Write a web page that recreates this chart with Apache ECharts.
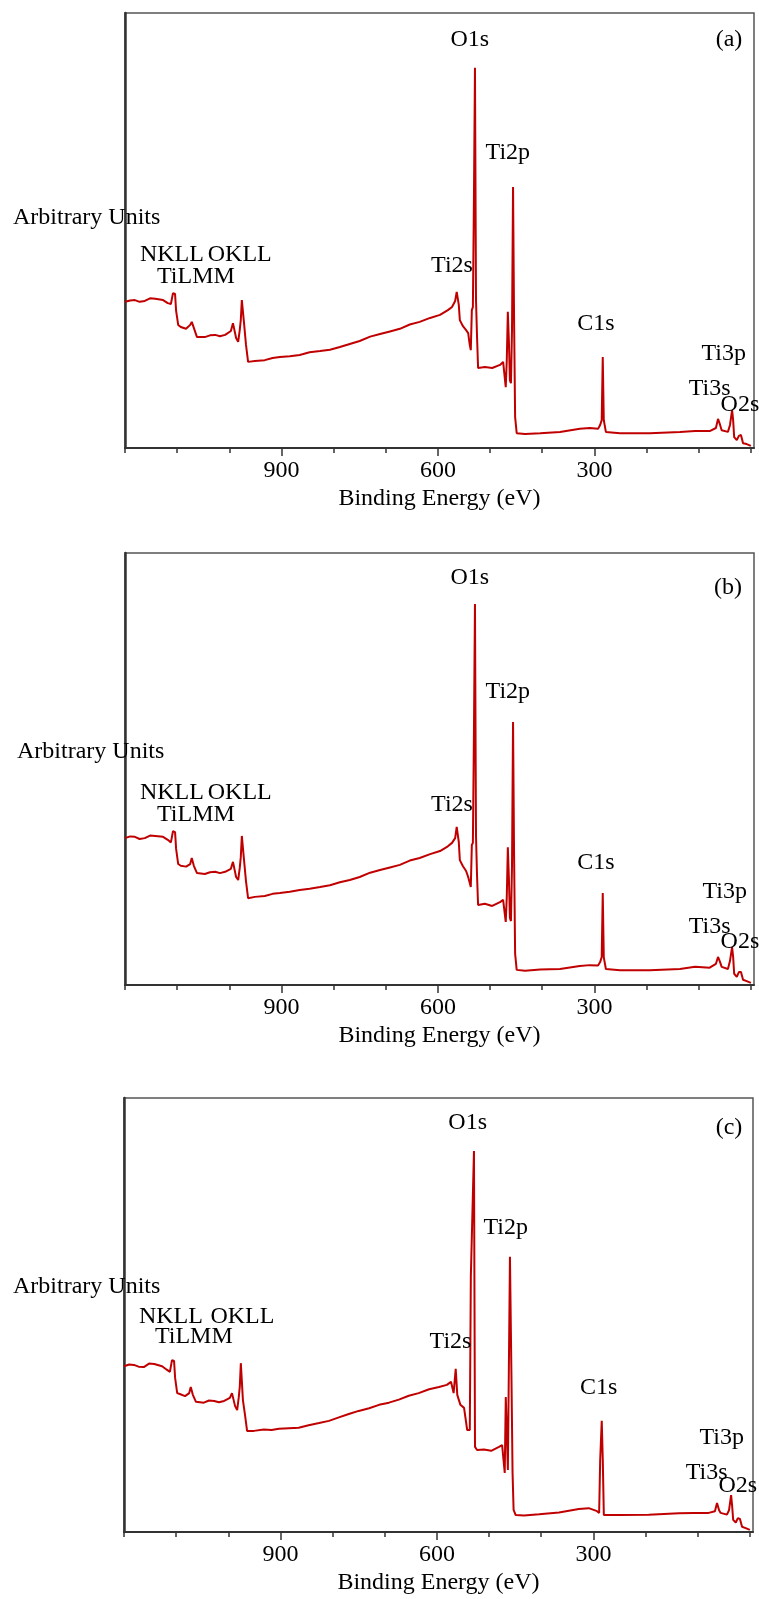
<!DOCTYPE html>
<html>
<head>
<meta charset="utf-8">
<script src="https://cdn.jsdelivr.net/npm/echarts@6/dist/echarts.min.js"></script>
<style>
  html, body { margin: 0; padding: 0; background: #fff; }
  #chart { width: 759px; height: 1599px; }
</style>
</head>
<body>
<div id="chart"></div>
<script>
// XPS survey spectra, three samples (a), (b), (c)
const energyA = [1200, 1190, 1181, 1172, 1162, 1152, 1142, 1127, 1118, 1112, 1108, 1104, 1102, 1098, 1093, 1083, 1075, 1072, 1068, 1062,
  1047, 1037, 1027, 1018, 1008, 997, 993, 987, 983, 980, 978, 976, 974, 972, 968, 964, 951, 932, 917, 903,
  884, 865, 846, 826, 807, 788, 769, 750, 730, 711, 692, 673, 654, 635, 615, 596, 581, 573, 567, 564,
  560, 558, 552, 546, 542, 539, 537, 535, 533, 531, 529, 527, 525, 523, 510, 496, 481, 475, 470, 468,
  466, 464, 462, 460, 458, 456, 454, 452, 449, 433, 404, 366, 328, 309, 293, 289, 286, 284, 282, 278,
  251, 194, 136, 107, 79, 67, 63, 59, 56, 44, 40, 36, 34, 32, 27, 23, 19, 15, 8, 0];
const intensityA = [33.6, 33.9, 34.0, 33.6, 33.8, 34.4, 34.3, 34.0, 33.3, 33.1, 35.6, 35.4, 31.5, 28.3, 27.8, 27.4, 28.3, 29.0, 27.6, 25.5,
  25.5, 25.9, 26.0, 25.7, 26.0, 26.9, 28.7, 25.3, 24.4, 27.1, 29.4, 34.0, 33.6, 29.0, 23.7, 19.8, 20.0, 20.2, 20.7, 20.9,
  21.1, 21.4, 22.0, 22.3, 22.6, 23.2, 23.9, 24.6, 25.6, 26.2, 26.8, 27.4, 28.4, 29.0, 29.9, 30.6, 31.7, 32.4, 33.8, 35.9,
  32.9, 29.4, 28.0, 27.1, 26.4, 23.7, 22.5, 31.7, 32.4, 57.0, 87.4, 34.0, 25.5, 18.4, 18.6, 18.4, 19.1, 19.8, 14.0, 20.2,
  31.3, 24.8, 15.6, 14.9, 27.1, 60.0, 29.4, 7.1, 3.4, 3.2, 3.4, 3.7, 4.4, 4.6, 4.4, 5.3, 6.4, 20.9, 6.4, 3.7,
  3.4, 3.4, 3.7, 3.9, 3.9, 4.6, 6.7, 5.3, 4.1, 3.7, 5.3, 8.7, 6.4, 2.5, 1.8, 2.8, 3.0, 1.1, 0.9, 0.5];

const energyB = energyA;
const intensityB = [34.0, 34.4, 34.3, 33.8, 34.0, 34.6, 34.5, 34.3, 33.6, 33.0, 35.6, 35.4, 31.5, 28.0, 27.6, 27.4, 28.0, 29.4, 27.6, 25.9,
  25.7, 26.1, 26.2, 25.9, 26.2, 26.9, 28.5, 25.0, 24.3, 27.1, 29.6, 34.5, 34.3, 29.2, 24.0, 20.1, 20.4, 20.6, 21.1, 21.3,
  21.6, 22.0, 22.3, 22.7, 23.1, 23.8, 24.3, 25.0, 26.0, 26.6, 27.2, 27.8, 28.8, 29.4, 30.3, 31.0, 32.1, 32.9, 34.0, 36.6,
  33.1, 28.9, 27.5, 26.4, 25.0, 23.6, 22.7, 32.4, 32.9, 58.0, 88.2, 34.5, 25.2, 18.5, 18.8, 18.3, 19.2, 19.7, 14.6, 20.4,
  31.9, 25.0, 15.5, 14.8, 27.5, 60.9, 30.0, 7.2, 3.5, 3.3, 3.6, 3.7, 4.4, 4.6, 4.5, 5.3, 6.5, 21.3, 6.4, 3.7,
  3.4, 3.4, 3.7, 4.2, 4.0, 4.9, 6.5, 5.3, 4.2, 3.7, 5.6, 8.8, 6.5, 2.6, 1.9, 3.0, 3.0, 1.2, 0.9, 0.5];

const energyC = [1200, 1190, 1181, 1172, 1162, 1152, 1142, 1127, 1118, 1112, 1108, 1104, 1102, 1098, 1093, 1083, 1075, 1072, 1068, 1062,
  1047, 1037, 1027, 1018, 1008, 997, 993, 987, 983, 980, 978, 976, 974, 972, 968, 964, 951, 932, 917, 903,
  884, 865, 846, 826, 807, 788, 769, 750, 730, 711, 692, 673, 654, 635, 615, 596, 581, 573, 568, 564,
  561, 555, 548, 542, 537, 535, 533, 529, 527, 523, 510, 496, 481, 475, 470, 468, 466, 464, 460, 457,
  455, 453, 449, 433, 404, 366, 328, 309, 293, 289, 287, 284, 282, 280, 251, 194, 136, 107, 79, 67,
  63, 59, 56, 44, 40, 36, 34, 32, 27, 23, 19, 15, 8, 0];
const intensityC = [38.2, 38.6, 38.5, 38.1, 38.0, 38.8, 38.7, 38.2, 37.4, 36.9, 39.6, 39.4, 35.5, 32.0, 31.8, 31.3, 32.0, 33.4, 31.6, 30.0,
  29.8, 30.3, 30.2, 29.9, 30.2, 30.9, 32.0, 29.0, 28.1, 31.0, 33.5, 38.9, 38.6, 30.4, 27.0, 23.3, 23.3, 23.6, 23.5, 23.8,
  23.9, 24.0, 24.6, 25.1, 25.6, 26.4, 27.2, 27.9, 28.5, 29.3, 29.8, 30.5, 31.4, 32.0, 32.9, 33.4, 33.9, 34.6, 32.0, 37.6,
  31.6, 29.3, 28.6, 23.5, 23.5, 58.8, 58.8, 87.8, 19.6, 18.9, 19.0, 18.7, 19.6, 20.0, 13.6, 31.1, 31.1, 14.3, 63.4, 34.6,
  13.6, 5.1, 3.9, 3.8, 4.1, 4.5, 5.3, 5.5, 4.8, 4.4, 16.6, 25.6, 16.6, 3.9, 3.9, 4.0, 4.3, 4.4, 4.4, 4.8,
  6.7, 5.0, 4.4, 4.0, 5.0, 8.5, 6.0, 2.8, 2.2, 3.2, 3.0, 1.2, 0.9, 0.5];

// peak annotations (energy, height in the same units as the spectra)
const peakNames = ['O1s', 'Ti2p', 'Ti2s', 'C1s', 'Ti3p', 'Ti3s', 'O2s', 'NKLL', 'OKLL', 'TiLMM'];
const peakEnergyA = [539, 466, 573, 297, 52, 79, 21, 1110, 980, 1064];
const peakHeightA = [93.8, 67.8, 41.8, 28.5, 21.6, 13.6, 9.9, 44.4, 44.4, 39.3];
const peakEnergyB = [539, 466, 573, 297, 50, 79, 21, 1110, 980, 1064];
const peakHeightB = [94.2, 67.8, 41.7, 28.2, 21.5, 13.4, 10.0, 44.4, 44.4, 39.4];
const peakEnergyC = [541, 468, 574, 290, 54, 83, 23, 1110, 973, 1066];
const peakHeightC = [94.2, 70.0, 43.8, 33.2, 21.7, 13.6, 10.6, 49.5, 49.5, 44.9];

const panelTags = ['(a)', '(b)', '(c)'];
const tagEnergy = [42, 44, 40];
const tagHeight = [93.8, 91.9, 93.1];

const tickEnergies = [0, 100, 200, 300, 400, 500, 600, 700, 800, 900, 1000, 1100, 1200];
const labelEnergies = [300, 600, 900];

const xName = 'Binding Energy (eV)';
const yName = 'Arbitrary Units';

const panels = [
  { energy: energyA, intensity: intensityA, peakE: peakEnergyA, peakH: peakHeightA },
  { energy: energyB, intensity: intensityB, peakE: peakEnergyB, peakH: peakHeightB },
  { energy: energyC, intensity: intensityC, peakE: peakEnergyC, peakH: peakHeightC }
];

// layout of the three plot boxes, in pixels
const boxes = [
  { left: 125, top: 13, width: 629, height: 435, yNameX: 13, yNameY: 218 },
  { left: 125, top: 553, width: 629, height: 432, yNameX: 17, yNameY: 752 },
  { left: 124, top: 1098, width: 629, height: 434, yNameX: 13, yNameY: 1287 }
];

const FONT = '"Liberation Serif", "Times New Roman", serif';
const FS = 24;
const AXIS = '#333';
const RED = '#c00000';

const grid = [], xAxis = [], yAxis = [], series = [], graphic = [];

panels.forEach((p, i) => {
    const b = boxes[i];
    grid.push({
        left: b.left, top: b.top, width: b.width, height: b.height,
        show: true, borderColor: '#555', borderWidth: 1.5
    });

    // main axis: line, minor ticks, name
    xAxis.push({
        gridIndex: i, type: 'value', min: -6, max: 1200, inverse: true, position: 'bottom',
        axisLine: { show: true, onZero: false, lineStyle: { color: AXIS, width: 2 } },
        axisTick: { show: true, customValues: tickEnergies, length: 5, lineStyle: { color: AXIS, width: 1.5 } },
        axisLabel: { show: false },
        splitLine: { show: false },
        name: xName, nameLocation: 'middle', nameGap: 39,
        nameTextStyle: { fontFamily: FONT, fontSize: FS, color: '#000' }
    });
    // second axis only for the labelled major ticks
    xAxis.push({
        gridIndex: i, type: 'value', min: -6, max: 1200, inverse: true, position: 'bottom',
        axisLine: { show: false, onZero: false },
        axisTick: { show: true, customValues: labelEnergies, length: 8, lineStyle: { color: AXIS, width: 1.5 } },
        axisLabel: { show: true, customValues: labelEnergies, margin: 11, fontFamily: FONT, fontSize: FS, color: '#000' },
        splitLine: { show: false }
    });
    yAxis.push({
        gridIndex: i, type: 'value', min: 0, max: 100, position: 'left',
        axisLine: { show: true, onZero: false, lineStyle: { color: AXIS, width: 2.5 } },
        axisTick: { show: false }, axisLabel: { show: false }, splitLine: { show: false }
    });

    series.push({
        type: 'line', xAxisIndex: 2 * i, yAxisIndex: i,
        data: p.energy.map((e, k) => [e, p.intensity[k]]),
        showSymbol: false, symbol: 'none',
        lineStyle: { color: RED, width: 2 },
        animation: false, z: 3
    });

    const labels = p.peakE.map((e, k) => ({ name: peakNames[k], value: [e, p.peakH[k]] }));
    labels.push({ name: panelTags[i], value: [tagEnergy[i], tagHeight[i]] });
    series.push({
        type: 'scatter', xAxisIndex: 2 * i, yAxisIndex: i,
        data: labels, symbolSize: 0,
        itemStyle: { color: '#000', opacity: 1 },
        label: {
            show: true, position: 'inside', formatter: '{b}',
            fontFamily: FONT, fontSize: FS, color: '#000', opacity: 1, textBorderWidth: 0
        },
        silent: true, animation: false, z: 4
    });

    graphic.push({
        type: 'text', x: b.yNameX, y: b.yNameY, z: 1,
        style: { text: yName, font: FS + 'px ' + FONT, fill: '#000', verticalAlign: 'middle', align: 'left' }
    });
});

const chart = echarts.init(document.getElementById('chart'), null, { renderer: 'canvas' });
chart.setOption({
    backgroundColor: '#fff',
    animation: false,
    grid, xAxis, yAxis, series, graphic
});
</script>
</body>
</html>
